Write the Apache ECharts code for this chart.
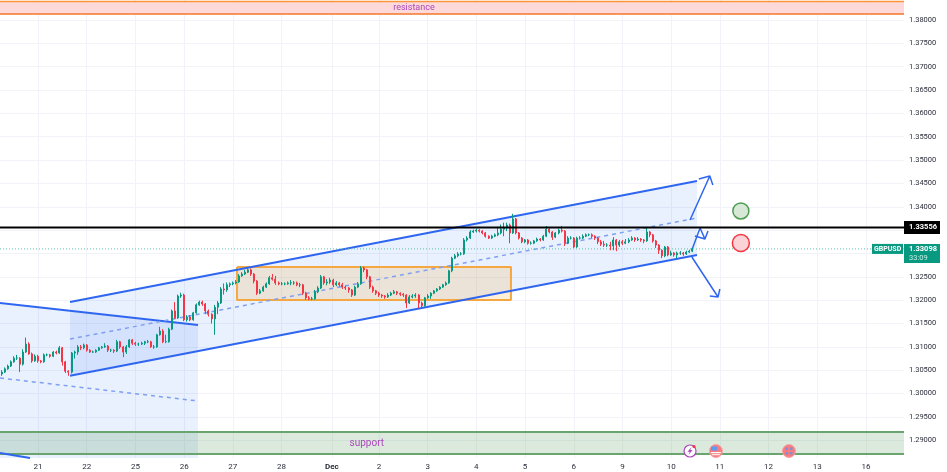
<!DOCTYPE html>
<html>
<head>
<meta charset="utf-8">
<style>html,body{margin:0;background:#fff}#chart{width:947px;height:472px}</style>
<script src="https://cdn.jsdelivr.net/npm/echarts@6/dist/echarts.min.js"></script>
</head>
<body>
<div id="chart"></div>
<script>
// bars are 1.5h slots, 16 to a day, x values below are in slot units
const slotCount = 297;
const dayTicks = [12.5,28.5,44.5,60.5,76.5,92.5,109,124.5,140.5,156.5,172.5,188.5,204.5,220.5,236.5,252.5,268.5,284.5];
const dayLabels = ["21","22","25","26","27","28","Dec","2","3","4","5","6","9","10","11","12","13","16"];
const priceTicks = [1.29,1.295,1.30,1.305,1.31,1.315,1.32,1.325,1.33,1.335,1.34,1.345,1.35,1.355,1.36,1.365,1.37,1.375,1.38];

const opens = [1.3042,1.3046,1.3053,1.3059,1.3068,1.3076,1.3076,1.3063,1.3089,1.3106,1.3085,1.3070,1.3080,1.3070,1.3068,1.3083,1.3083,1.3080,1.3089,1.3087,
1.3098,1.3068,1.3048,1.3046,1.3087,1.3089,1.3100,1.3098,1.3104,1.3093,1.3089,1.3089,1.3093,1.3098,1.3100,1.3102,1.3093,1.3093,1.3091,1.3111,
1.3100,1.3089,1.3100,1.3115,1.3108,1.3106,1.3106,1.3108,1.3111,1.3111,1.3100,1.3100,1.3126,1.3134,1.3111,1.3111,1.3138,1.3177,1.3162,1.3209,
1.3211,1.3158,1.3164,1.3158,1.3173,1.3190,1.3196,1.3192,1.3177,1.3170,1.3160,1.3185,1.3194,1.3224,1.3222,1.3233,1.3235,1.3237,1.3239,1.3252,
1.3256,1.3260,1.3265,1.3256,1.3241,1.3215,1.3220,1.3228,1.3235,1.3248,1.3245,1.3237,1.3235,1.3235,1.3235,1.3237,1.3237,1.3237,1.3233,1.3233,
1.3215,1.3205,1.3203,1.3203,1.3218,1.3226,1.3250,1.3237,1.3239,1.3243,1.3233,1.3237,1.3233,1.3228,1.3226,1.3222,1.3211,1.3228,1.3235,1.3269,
1.3265,1.3250,1.3228,1.3220,1.3215,1.3211,1.3209,1.3207,1.3211,1.3215,1.3218,1.3215,1.3213,1.3211,1.3194,1.3207,1.3209,1.3211,1.3194,1.3188,
1.3205,1.3209,1.3215,1.3220,1.3224,1.3228,1.3233,1.3237,1.3263,1.3290,1.3295,1.3299,1.3299,1.3329,1.3333,1.3346,1.3348,1.3350,1.3348,1.3344,
1.3337,1.3333,1.3337,1.3340,1.3344,1.3352,1.3355,1.3361,1.3344,1.3374,1.3344,1.3333,1.3325,1.3329,1.3322,1.3322,1.3327,1.3331,1.3329,1.3337,
1.3352,1.3346,1.3335,1.3344,1.3350,1.3348,1.3322,1.3333,1.3333,1.3314,1.3333,1.3333,1.3337,1.3340,1.3340,1.3337,1.3333,1.3325,1.3320,1.3318,
1.3318,1.3316,1.3329,1.3318,1.3325,1.3322,1.3325,1.3329,1.3333,1.3329,1.3331,1.3329,1.3327,1.3346,1.3340,1.3327,1.3318,1.3307,1.3295,1.3314,
1.3297,1.3301,1.3297,1.3301,1.3301,1.3299,1.3303,1.3305];
const closes = [1.3046,1.3053,1.3059,1.3068,1.3076,1.3076,1.3063,1.3089,1.3106,1.3085,1.3070,1.3080,1.3070,1.3068,1.3083,1.3083,1.3080,1.3089,1.3087,1.3098,
1.3068,1.3048,1.3046,1.3087,1.3089,1.3100,1.3098,1.3104,1.3093,1.3089,1.3089,1.3093,1.3098,1.3100,1.3102,1.3093,1.3093,1.3091,1.3111,1.3100,
1.3089,1.3100,1.3115,1.3108,1.3106,1.3106,1.3108,1.3111,1.3111,1.3100,1.3100,1.3126,1.3134,1.3111,1.3111,1.3138,1.3177,1.3162,1.3209,1.3211,
1.3158,1.3164,1.3158,1.3173,1.3190,1.3196,1.3192,1.3177,1.3170,1.3160,1.3185,1.3194,1.3224,1.3222,1.3233,1.3235,1.3237,1.3239,1.3252,1.3256,
1.3260,1.3265,1.3256,1.3241,1.3215,1.3220,1.3228,1.3235,1.3248,1.3245,1.3237,1.3235,1.3235,1.3235,1.3237,1.3237,1.3237,1.3233,1.3233,1.3215,
1.3205,1.3203,1.3203,1.3218,1.3226,1.3250,1.3237,1.3239,1.3243,1.3233,1.3237,1.3233,1.3228,1.3226,1.3222,1.3211,1.3228,1.3235,1.3269,1.3265,
1.3250,1.3228,1.3220,1.3215,1.3211,1.3209,1.3207,1.3211,1.3215,1.3218,1.3215,1.3213,1.3211,1.3194,1.3207,1.3209,1.3211,1.3194,1.3188,1.3205,
1.3209,1.3215,1.3220,1.3224,1.3228,1.3233,1.3237,1.3263,1.3290,1.3295,1.3299,1.3299,1.3329,1.3333,1.3346,1.3348,1.3350,1.3348,1.3344,1.3337,
1.3333,1.3337,1.3340,1.3344,1.3352,1.3355,1.3361,1.3344,1.3374,1.3344,1.3333,1.3325,1.3329,1.3322,1.3322,1.3327,1.3331,1.3329,1.3337,1.3352,
1.3346,1.3335,1.3344,1.3350,1.3348,1.3322,1.3333,1.3333,1.3314,1.3333,1.3333,1.3337,1.3340,1.3340,1.3337,1.3333,1.3325,1.3320,1.3318,1.3318,
1.3316,1.3329,1.3318,1.3325,1.3322,1.3325,1.3329,1.3333,1.3329,1.3331,1.3329,1.3327,1.3346,1.3340,1.3327,1.3318,1.3307,1.3295,1.3314,1.3297,
1.3301,1.3297,1.3301,1.3301,1.3299,1.3303,1.3305,1.3310];
const highs = [1.3050,1.3056,1.3062,1.3071,1.3080,1.3083,1.3078,1.3095,1.3120,1.3110,1.3088,1.3084,1.3083,1.3072,1.3086,1.3086,1.3085,1.3091,1.3092,1.3102,
1.3100,1.3070,1.3050,1.3089,1.3092,1.3104,1.3104,1.3107,1.3106,1.3095,1.3092,1.3095,1.3100,1.3102,1.3108,1.3104,1.3096,1.3095,1.3115,1.3113,
1.3102,1.3104,1.3117,1.3117,1.3111,1.3109,1.3111,1.3113,1.3115,1.3113,1.3104,1.3128,1.3143,1.3138,1.3126,1.3141,1.3180,1.3196,1.3212,1.3216,
1.3214,1.3168,1.3168,1.3175,1.3193,1.3199,1.3199,1.3194,1.3180,1.3172,1.3190,1.3198,1.3228,1.3236,1.3238,1.3238,1.3240,1.3243,1.3256,1.3260,
1.3265,1.3270,1.3268,1.3258,1.3243,1.3224,1.3231,1.3238,1.3252,1.3256,1.3252,1.3240,1.3239,1.3238,1.3240,1.3243,1.3241,1.3240,1.3237,1.3235,
1.3218,1.3209,1.3207,1.3222,1.3230,1.3254,1.3252,1.3245,1.3248,1.3246,1.3241,1.3239,1.3237,1.3231,1.3228,1.3224,1.3231,1.3239,1.3273,1.3272,
1.3267,1.3252,1.3231,1.3222,1.3218,1.3213,1.3211,1.3215,1.3218,1.3222,1.3220,1.3217,1.3215,1.3213,1.3211,1.3213,1.3215,1.3213,1.3197,1.3207,
1.3213,1.3217,1.3222,1.3226,1.3230,1.3235,1.3240,1.3265,1.3293,1.3299,1.3303,1.3303,1.3333,1.3337,1.3350,1.3351,1.3353,1.3352,1.3350,1.3346,
1.3339,1.3340,1.3343,1.3357,1.3362,1.3366,1.3366,1.3364,1.3385,1.3376,1.3346,1.3335,1.3331,1.3331,1.3326,1.3329,1.3334,1.3333,1.3340,1.3359,
1.3354,1.3348,1.3346,1.3353,1.3359,1.3350,1.3337,1.3337,1.3335,1.3336,1.3337,1.3341,1.3343,1.3343,1.3343,1.3339,1.3335,1.3329,1.3327,1.3322,
1.3325,1.3335,1.3331,1.3329,1.3329,1.3331,1.3333,1.3337,1.3335,1.3335,1.3333,1.3331,1.3355,1.3348,1.3342,1.3329,1.3320,1.3309,1.3316,1.3316,
1.3306,1.3303,1.3304,1.3305,1.3303,1.3306,1.3308,1.3312];
const lows = [1.3038,1.3044,1.3051,1.3057,1.3066,1.3072,1.3046,1.3060,1.3087,1.3083,1.3066,1.3068,1.3066,1.3065,1.3066,1.3080,1.3077,1.3078,1.3084,1.3085,
1.3060,1.3044,1.3038,1.3043,1.3075,1.3083,1.3093,1.3095,1.3090,1.3087,1.3087,1.3087,1.3091,1.3096,1.3098,1.3089,1.3089,1.3087,1.3089,1.3096,
1.3078,1.3085,1.3098,1.3104,1.3102,1.3102,1.3104,1.3104,1.3108,1.3098,1.3096,1.3098,1.3124,1.3108,1.3108,1.3109,1.3136,1.3160,1.3160,1.3205,
1.3155,1.3154,1.3155,1.3156,1.3171,1.3188,1.3188,1.3170,1.3165,1.3150,1.3126,1.3170,1.3192,1.3212,1.3218,1.3228,1.3232,1.3234,1.3237,1.3250,
1.3254,1.3258,1.3252,1.3236,1.3211,1.3213,1.3218,1.3226,1.3233,1.3242,1.3233,1.3232,1.3232,1.3232,1.3233,1.3232,1.3233,1.3230,1.3228,1.3211,
1.3201,1.3200,1.3200,1.3201,1.3215,1.3224,1.3233,1.3232,1.3235,1.3228,1.3230,1.3229,1.3224,1.3222,1.3216,1.3207,1.3209,1.3226,1.3233,1.3260,
1.3245,1.3224,1.3216,1.3211,1.3207,1.3205,1.3203,1.3205,1.3209,1.3213,1.3211,1.3209,1.3207,1.3183,1.3192,1.3204,1.3205,1.3183,1.3185,1.3186,
1.3203,1.3203,1.3213,1.3218,1.3222,1.3226,1.3231,1.3235,1.3260,1.3288,1.3292,1.3296,1.3297,1.3326,1.3331,1.3344,1.3345,1.3345,1.3341,1.3334,
1.3331,1.3331,1.3335,1.3337,1.3341,1.3337,1.3348,1.3322,1.3342,1.3341,1.3330,1.3322,1.3322,1.3319,1.3319,1.3320,1.3325,1.3326,1.3327,1.3335,
1.3343,1.3329,1.3333,1.3341,1.3345,1.3316,1.3320,1.3330,1.3312,1.3312,1.3330,1.3331,1.3335,1.3337,1.3333,1.3329,1.3320,1.3316,1.3314,1.3314,
1.3307,1.3307,1.3305,1.3314,1.3318,1.3320,1.3322,1.3327,1.3325,1.3327,1.3325,1.3322,1.3325,1.3335,1.3323,1.3312,1.3299,1.3290,1.3292,1.3294,
1.3295,1.3293,1.3290,1.3297,1.3295,1.3297,1.3301,1.3303];

const resistanceBand = [[0,1.38396],[297,1.38396],[297,1.38128],[0,1.38128]];
const supportBand = [[0,1.29178],[297,1.29178],[297,1.28707],[0,1.28707]];
const sideBox = [[77.86,1.32711],[167.87,1.32711],[167.87,1.32004],[77.86,1.32004],[77.86,1.32711]];
const oldChannelFill = [[0,1.3194],[65.05,1.3147],[65.05,1.28621],[0,1.28621]];
const oldChannelTop = [[0,1.3194],[65.05,1.3147]];
const oldChannelMid = [[0,1.30334],[65.05,1.29842]];
const oldChannelLow = [[0,1.28728],[9.86,1.28621]];
const upChannelFill = [[23,1.3196],[229,1.34552],[229,1.32968],[23,1.3038]];
const upChannelTop = [[23,1.3196],[229,1.34552]];
const upChannelMid = [[23,1.31169],[229,1.3376]];
const upChannelLow = [[23,1.3038],[229,1.32968]];
const arrowUp = [[226.7,1.33717],[233.2,1.3466],[229.6,1.34595],[233.2,1.3466],[234.2,1.34467]];
const arrowMid = [[227.3,1.33075],[230,1.33546],[231.6,1.33311],[228.3,1.33375],[231.6,1.33311],[232.6,1.33482]];
const arrowDown = [[227.3,1.32925],[235.9,1.32069],[233.2,1.3209],[235.9,1.32069],[236.5,1.3224]];
const targetCircle = [243.4,1.3391];
const stopCircle = [243.4,1.33225];
const levelPrice = 1.33556;
const lastPrice = 1.33098;
const eventSlots = [226.7,235.2,259.2];
const eventPrice = 1.28771;

const chart = echarts.init(document.getElementById("chart"));

const blue = "#2f66f0";
const labelFont = "Roboto, sans-serif";

function polygon(points, fill, z, extra) {
  return {
    type: "custom", xAxisIndex: 1, yAxisIndex: 0, silent: true, z: z, data: [[0, 0]],
    renderItem: function (params, api) {
      return {
        type: "polygon",
        shape: { points: points.map((p) => api.coord(p)) },
        style: Object.assign({ fill: fill }, extra || {}),
      };
    },
  };
}

function polyline(points, color, width, z, dashed) {
  return {
    type: "line", xAxisIndex: 1, yAxisIndex: 0, data: points, symbol: "none", silent: true, z: z,
    lineStyle: { color: color, width: width, type: dashed ? [4, 4] : "solid" },
  };
}

// level tag, last price tag and the symbol name next to it
const tagsSeries = {
  type: "custom", xAxisIndex: 1, yAxisIndex: 0, silent: true, z: 20, data: [[0, 0]], clip: false,
  renderItem: function (params, api) {
    const lvl = api.coord([slotCount, levelPrice]);
    const last = api.coord([slotCount, lastPrice]);
    return {
      type: "group",
      children: [
        { type: "rect", shape: { x: lvl[0], y: lvl[1] - 6.5, width: 36, height: 13 }, style: { fill: "#000" } },
        { type: "text", style: { x: lvl[0] + 5, y: lvl[1], text: levelPrice.toFixed(5), fill: "#fff", font: "bold 7.5px " + labelFont, textVerticalAlign: "middle" } },
        { type: "rect", shape: { x: last[0], y: last[1] - 5, width: 36, height: 19 }, style: { fill: "#089981" } },
        { type: "text", style: { x: last[0] + 5, y: last[1], text: lastPrice.toFixed(5), fill: "#fff", font: "bold 7.5px " + labelFont, textVerticalAlign: "middle" } },
        { type: "text", style: { x: last[0] + 5, y: last[1] + 9, text: "33:09", fill: "#c8eee4", font: "7.5px " + labelFont, textVerticalAlign: "middle" } },
        { type: "rect", shape: { x: last[0] - 32, y: last[1] - 5, width: 31, height: 10 }, style: { fill: "#089981" } },
        { type: "text", style: { x: last[0] - 30, y: last[1], text: "GBPUSD", fill: "#fff", font: "bold 7px " + labelFont, textVerticalAlign: "middle" } },
      ],
    };
  },
};

// calendar markers along the bottom
const eventsSeries = {
  type: "custom", xAxisIndex: 1, yAxisIndex: 0, silent: true, z: 18, clip: false,
  data: eventSlots.map((s) => [s, eventPrice]),
  renderItem: function (params, api) {
    const c = api.coord([api.value(0), api.value(1)]);
    const x = c[0], y = c[1];
    if (params.dataIndex === 0) {
      return { type: "group", children: [
        { type: "circle", shape: { cx: x, cy: y, r: 6 }, style: { fill: "#fff", stroke: "#ab47bc", lineWidth: 1.2 } },
        { type: "polygon", shape: { points: [[x + 1.5, y - 4], [x - 2.5, y + 0.8], [x - 0.3, y + 0.8], [x - 1.5, y + 4], [x + 2.5, y - 1], [x + 0.3, y - 1]] }, style: { fill: "#ab47bc" } },
        { type: "circle", shape: { cx: x + 4, cy: y - 4.5, r: 1.6 }, style: { fill: "#f23645" } },
      ] };
    }
    if (params.dataIndex === 1) {
      return { type: "group", children: [
        { type: "circle", shape: { cx: x, cy: y, r: 6.5 }, style: { fill: "#f77c80", stroke: "#f7a6a8", lineWidth: 1 } },
        { type: "rect", shape: { x: x - 5, y: y - 4.5, width: 6, height: 4 }, style: { fill: "#5a9cf0" } },
        { type: "rect", shape: { x: x - 5, y: y + 1, width: 10, height: 1.2 }, style: { fill: "#fff" } },
        { type: "rect", shape: { x: x - 4, y: y + 3.2, width: 8, height: 1 }, style: { fill: "#fff" } },
      ] };
    }
    return { type: "group", children: [
      { type: "circle", shape: { cx: x, cy: y, r: 6.5 }, style: { fill: "#f77c80", stroke: "#f7a6a8", lineWidth: 1 } },
      { type: "rect", shape: { x: x - 3.5, y: y - 3.5, width: 2.5, height: 2.5 }, style: { fill: "#7f8fd8" } },
      { type: "rect", shape: { x: x + 1, y: y - 3.5, width: 2.5, height: 2.5 }, style: { fill: "#7f8fd8" } },
      { type: "rect", shape: { x: x - 3.5, y: y + 1, width: 2.5, height: 2.5 }, style: { fill: "#7f8fd8" } },
      { type: "rect", shape: { x: x + 1, y: y + 1, width: 2.5, height: 2.5 }, style: { fill: "#7f8fd8" } },
    ] };
  },
};

const bandTextSeries = {
  type: "custom", xAxisIndex: 1, yAxisIndex: 0, silent: true, z: 12, data: [[0, 0]],
  renderItem: function (params, api) {
    const r = api.coord([136, 1.38262]);
    const s = api.coord([120.5, 1.28925]);
    return { type: "group", children: [
      { type: "text", style: { x: r[0], y: r[1], text: "resistance", fill: "#ab47bc", font: "9px " + labelFont, textAlign: "center", textVerticalAlign: "middle" } },
      { type: "text", style: { x: s[0], y: s[1], text: "support", fill: "#ab47bc", font: "10px " + labelFont, textAlign: "center", textVerticalAlign: "middle" } },
    ] };
  },
};

const option = {
  animation: false,
  backgroundColor: "#fff",
  grid: { left: 0, right: 43, top: 0, bottom: 14 },
  xAxis: [
    {
      type: "category", show: false, boundaryGap: true,
      data: Array.from({ length: slotCount }, (_, i) => String(i)),
    },
    {
      type: "value", min: 0, max: slotCount, position: "bottom",
      axisLine: { show: false },
      axisTick: { show: false, customValues: dayTicks },
      axisLabel: {
        customValues: dayTicks, margin: 5, fontSize: 8, color: "#2a2e39", fontFamily: labelFont,
        hideOverlap: false, showMinLabel: true, showMaxLabel: true,
        formatter: function (v) {
          const lab = dayLabels[dayTicks.indexOf(v)];
          return lab === "Dec" ? "{b|Dec}" : lab;
        },
        rich: { b: { fontWeight: "bold", fontSize: 8, color: "#2a2e39" } },
      },
      splitLine: { show: true, lineStyle: { color: "#f1f3f8", width: 1 } },
    },
  ],
  yAxis: [
    {
      type: "value", position: "right", min: 1.28621, max: 1.38428, scale: true,
      axisLine: { show: false },
      axisTick: { show: false, customValues: priceTicks },
      axisLabel: {
        customValues: priceTicks, margin: 5, fontSize: 7.5, color: "#2a2e39", fontFamily: labelFont,
        padding: [3, 0, 0, 0],
        formatter: (v) => v.toFixed(5),
      },
      splitLine: { show: true, lineStyle: { color: "#f1f3f8", width: 1 } },
    },
  ],
  series: [
    polygon(oldChannelFill, "rgba(41,110,245,0.10)", 1),
    polygon(upChannelFill, "rgba(41,110,245,0.10)", 1),
    polygon(resistanceBand, "#fdd9d9", 2),
    polyline([resistanceBand[0], resistanceBand[1]], "#f9963c", 1.5, 3),
    polyline([resistanceBand[2], resistanceBand[3]], "#f4742b", 1.5, 3),
    polygon(supportBand, "rgba(76,150,80,0.2)", 2),
    polyline([supportBand[0], supportBand[1]], "#6aa56f", 2, 3),
    polyline([supportBand[2], supportBand[3]], "#6aa56f", 2, 3),
    polygon(sideBox, "rgba(255,152,0,0.15)", 4),
    polyline(sideBox, "#f5a742", 2, 5),
    polyline(oldChannelTop, blue, 2, 6),
    polyline(oldChannelMid, "#7fa0f0", 1.5, 6, true),
    polyline(oldChannelLow, blue, 2, 6),
    polyline(upChannelTop, blue, 2, 6),
    polyline(upChannelMid, "#7fa0f0", 1.5, 6, true),
    polyline(upChannelLow, blue, 2, 6),
    polyline(arrowUp, blue, 1.5, 6),
    polyline(arrowMid, blue, 1.5, 6),
    polyline(arrowDown, blue, 1.5, 6),
    {
      type: "line", xAxisIndex: 1, yAxisIndex: 0, symbol: "none", silent: true, z: 7,
      data: [[0, lastPrice], [slotCount, lastPrice]],
      lineStyle: { color: "#5cbfa8", width: 1, type: [1, 2] },
    },
    {
      type: "line", xAxisIndex: 1, yAxisIndex: 0, symbol: "none", silent: true, z: 9,
      data: [[0, levelPrice], [slotCount, levelPrice]],
      lineStyle: { color: "#000", width: 2 },
    },
    {
      type: "candlestick", xAxisIndex: 0, yAxisIndex: 0, z: 8, barWidth: 1.5,
      data: opens.map((o, i) => [o, closes[i], lows[i], highs[i]]),
      itemStyle: {
        color: "#089981", color0: "#f23645", borderColor: "#089981", borderColor0: "#f23645", borderWidth: 1,
      },
    },
    {
      type: "scatter", xAxisIndex: 1, yAxisIndex: 0, silent: true, z: 10, symbolSize: 16,
      data: [targetCircle], itemStyle: { color: "#d8e8d6", borderColor: "#4c9c52", borderWidth: 1.5, opacity: 1 },
    },
    {
      type: "scatter", xAxisIndex: 1, yAxisIndex: 0, silent: true, z: 10, symbolSize: 17,
      data: [stopCircle], itemStyle: { color: "#fbd3d6", borderColor: "#f23645", borderWidth: 1.5, opacity: 1 },
    },
    bandTextSeries,
    eventsSeries,
    tagsSeries,
  ],
};

chart.setOption(option);
</script>
</body>
</html>
